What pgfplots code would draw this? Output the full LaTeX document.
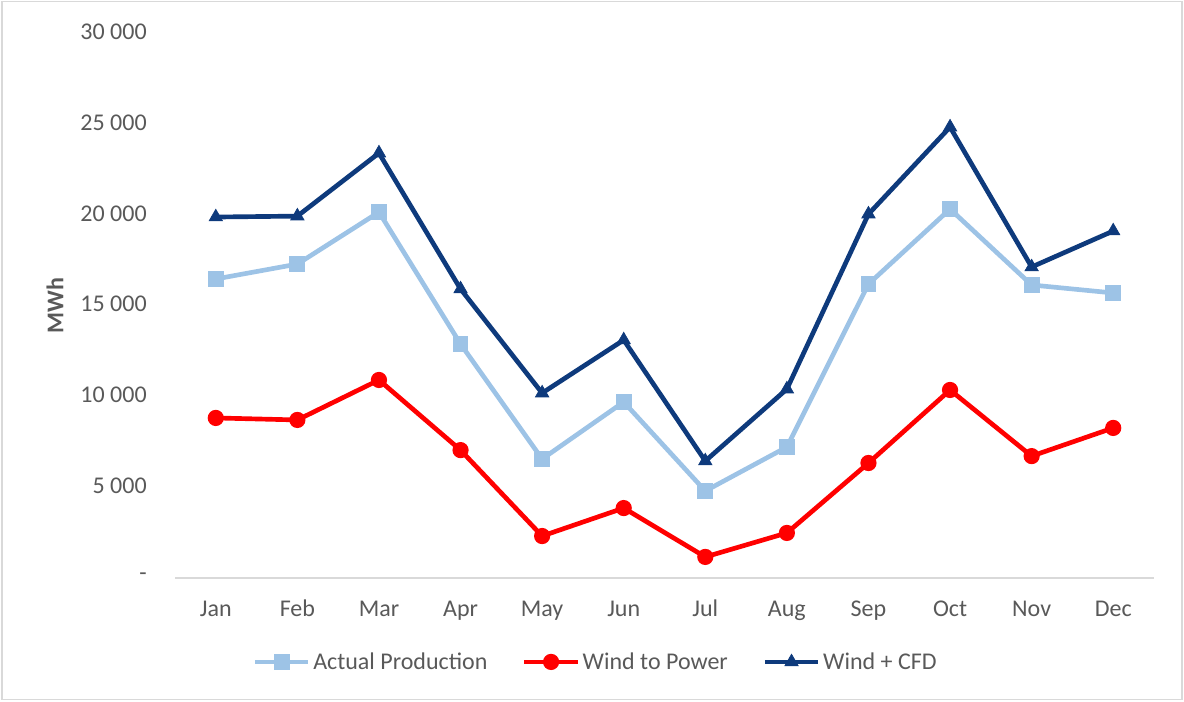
\documentclass[border=0pt]{standalone}
\usepackage{pgfplots}
\pgfplotsset{compat=1.18}
\usepackage{fontspec}
\setmainfont{Carlito}
\definecolor{txt}{HTML}{595959}
\definecolor{lblue}{HTML}{9DC3E6}
\definecolor{dblue}{HTML}{0E3A7C}
\definecolor{axgray}{HTML}{D9D9D9}
\begin{document}
\begin{tikzpicture}
\begin{axis}[
  scale only axis,
  width=734.25pt, height=408.75pt,
  xmin=-0.5, xmax=11.5, ymin=0, ymax=30000,
  scaled y ticks=false,
  clip=false,
  axis line style={draw=none},
  major tick length=0pt,
  xtick={0,...,11},
  xticklabels={Jan,Feb,Mar,Apr,May,Jun,Jul,Aug,Sep,Oct,Nov,Dec},
  ytick={0,5000,10000,15000,20000,25000,30000},
  yticklabels={-,5 000,10 000,15 000,20 000,25 000,30 000},
  font=\fontsize{18}{21}\selectfont,
  every tick label/.append style={text=txt, font=\fontsize{18}{21}\selectfont},
  xticklabel style={anchor=base, inner sep=0pt, yshift=-29pt},
  yticklabel style={anchor=east, inner sep=0pt, xshift=-21pt, yshift=1pt},
  ylabel={MWh},
  every axis y label/.style={at={(rel axis cs:-0.1226,0.5)}, anchor=center, rotate=90, text=txt, font=\fontsize{18}{21}\selectfont\bfseries},
  legend columns=-1,
  legend style={draw=none, fill=none, at={(rel axis cs:0.43,-0.154)}, anchor=center,
    font=\fontsize{18}{21}\selectfont, text=txt,
    /tikz/every even column/.append style={column sep=24pt},
    inner sep=0pt},
  legend cell align=left,
  legend image code/.code={\draw[mark repeat=2,mark phase=2] plot coordinates {(0pt,0pt) (20pt,0pt) (40pt,0pt)};},
]
\draw[axgray, line width=1pt] (rel axis cs:0,0) -- (rel axis cs:1,0);
\path (rel axis cs:-0.17875,-0.22752) rectangle (rel axis cs:1.03064,1.06055);
\draw[axgray, line width=1pt] (rel axis cs:-0.1767,-0.2227) rectangle (rel axis cs:1.0286,1.0575);
\addplot[lblue, line width=3.5pt, mark=square*, mark size=4.2pt, mark options={solid}] coordinates {
(0,16460) (1,17280) (2,20140) (3,12880) (4,6550) (5,9690) (6,4790) (7,7210) (8,16180) (9,20310) (10,16130) (11,15690)};
\addlegendentry{Actual Production}
\addplot[red, line width=3.5pt, mark=*, mark size=4.3pt, mark options={solid}] coordinates {
(0,8810) (1,8700) (2,10900) (3,7040) (4,2310) (5,3850) (6,1160) (7,2480) (8,6330) (9,10350) (10,6710) (11,8260)};
\addlegendentry{Wind to Power}
\addplot[dblue, line width=3.5pt, mark=triangle*, mark size=5.8pt, mark options={solid, line width=0.5pt}] coordinates {
(0,19870) (1,19920) (2,23390) (3,15910) (4,10180) (5,13100) (6,6440) (7,10400) (8,20030) (9,24820) (10,17120) (11,19100)};
\addlegendentry{Wind + CFD}
\end{axis}
\end{tikzpicture}
\end{document}
